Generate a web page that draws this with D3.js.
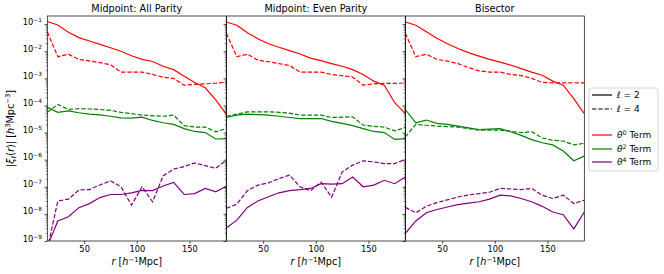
<!DOCTYPE html>
<html lang="en">
<head>
<meta charset="utf-8">
<title>Multipoles</title>
<script src="https://d3js.org/d3.v7.min.js"></script>
<style>
  body { margin: 0; background: #fff; }
  svg { font-family: "DejaVu Sans", sans-serif; }
</style>
</head>
<body>
<div class="chart"></div>
<script>
var r = [15, 25, 35, 45, 55, 65, 75, 85, 95, 105, 115, 125, 135, 145, 155, 165, 175, 185];
var titles = ["Midpoint: All Parity", "Midpoint: Even Parity", "Bisector"];
var xTicks = [50, 100, 150];
var yTicks = [1e-9, 1e-8, 1e-7, 1e-6, 1e-5, 1e-4, 1e-3, 1e-2, 1e-1];
var yTickExp = ["−9", "−8", "−7", "−6", "−5", "−4", "−3", "−2", "−1"];

// Midpoint: All Parity
var all_t0_l2 = [0.125, 0.093, 0.05, 0.032, 0.024, 0.018, 0.0135, 0.010, 0.0068, 0.005, 0.0042, 0.0028, 0.0021, 0.0012, 0.0007, 0.00045, 0.00016, 4.8e-5];
var all_t0_l4 = [0.052, 0.0063, 0.0078, 0.005, 0.0044, 0.0038, 0.0032, 0.0017, 0.0017, 0.0017, 0.0014, 0.0011, 0.001, 0.00056, 0.0006, 0.00063, 0.00066, 0.00072];
var all_t2_l2 = [8.5e-5, 5.6e-5, 6.3e-5, 5.4e-5, 4.8e-5, 4.5e-5, 4.0e-5, 3.5e-5, 3.4e-5, 3.7e-5, 2.8e-5, 2.3e-5, 2.0e-5, 1.4e-5, 1.1e-5, 1.0e-5, 5.8e-6, 6.0e-6];
var all_t2_l4 = [5.6e-5, 1.1e-4, 7.1e-5, 7.6e-5, 7.4e-5, 7.1e-5, 6.6e-5, 5.6e-5, 5.0e-5, 4.4e-5, 4.2e-5, 4.0e-5, 4.4e-5, 1.8e-5, 1.6e-5, 1.6e-5, 1.07e-5, 1.4e-5];
var all_t4_l2 = [6.3e-10, 5.5e-9, 7.8e-9, 1.7e-8, 2.4e-8, 4.0e-8, 5.2e-8, 5.2e-8, 6.0e-8, 7.4e-8, 7.2e-8, 1.07e-7, 1.45e-7, 5.2e-8, 5.6e-8, 8.7e-8, 6.5e-8, 1.05e-7];
var all_t4_l4 = [5e-10, 3.0e-8, 3.5e-8, 7.6e-8, 7.9e-8, 1.17e-7, 1.66e-7, 1.0e-7, 2.1e-8, 1.0e-7, 2.8e-8, 2.5e-7, 4.5e-7, 5.6e-7, 7.6e-7, 6.0e-7, 4.8e-7, 9.5e-7];

// Midpoint: Even Parity
var even_t0_l2 = [0.12, 0.091, 0.048, 0.029, 0.019, 0.014, 0.0105, 0.0079, 0.0056, 0.0045, 0.0035, 0.0028, 0.0021, 0.0014, 0.00079, 0.00056, 0.000126, 5.0e-5];
var even_t0_l4 = [0.046, 0.0063, 0.0078, 0.0047, 0.0041, 0.0035, 0.003, 0.0017, 0.0017, 0.0017, 0.0014, 0.00126, 0.00112, 0.00056, 0.00063, 0.00065, 0.00065, 0.00068];
var even_t2_l2 = [3.6e-5, 4.4e-5, 4.8e-5, 4.6e-5, 4.4e-5, 4.0e-5, 3.6e-5, 3.3e-5, 3.3e-5, 3.3e-5, 2.6e-5, 2.2e-5, 1.8e-5, 1.4e-5, 1.1e-5, 1.0e-5, 5.6e-6, 6.0e-6];
var even_t2_l4 = [4.0e-5, 4.8e-5, 5.8e-5, 5.8e-5, 5.8e-5, 5.6e-5, 5.2e-5, 4.4e-5, 4.4e-5, 4.4e-5, 3.6e-5, 3.7e-5, 3.8e-5, 1.9e-5, 1.7e-5, 1.6e-5, 1.15e-5, 1.55e-5];
var even_t4_l2 = [3.0e-9, 5.9e-9, 1.74e-8, 3.0e-8, 4.3e-8, 6.0e-8, 7.2e-8, 7.9e-8, 8.7e-8, 1.3e-7, 1.26e-7, 1.3e-7, 2.3e-7, 1.0e-7, 1.15e-7, 1.74e-7, 1.3e-7, 2.3e-7];
var even_t4_l4 = [1.6e-8, 2.3e-8, 7.1e-8, 1.15e-7, 1.4e-7, 2.0e-7, 2.7e-7, 1.0e-7, 7.1e-8, 1.5e-7, 4.1e-8, 3.5e-7, 6.3e-7, 9.1e-7, 8.3e-7, 7.2e-7, 7.2e-7, 1.02e-6];

// Bisector
var bis_t0_l2 = [0.12, 0.091, 0.052, 0.03, 0.019, 0.0126, 0.0089, 0.0066, 0.005, 0.004, 0.0031, 0.0023, 0.0017, 0.0013, 0.00079, 0.00056, 0.00018, 5.0e-5];
var bis_t0_l4 = [0.046, 0.0063, 0.0078, 0.005, 0.0043, 0.0035, 0.0025, 0.0019, 0.0017, 0.0017, 0.0014, 0.00126, 0.001, 0.00071, 0.00068, 0.00068, 0.00069, 0.00068];
var bis_t2_l2 = [7.1e-5, 2.3e-5, 2.9e-5, 2.2e-5, 2.0e-5, 1.74e-5, 1.5e-5, 1.3e-5, 1.35e-5, 1.4e-5, 1.07e-5, 7.9e-6, 5.5e-6, 4.2e-6, 3.5e-6, 2.1e-6, 9.1e-7, 1.35e-6];
var bis_t2_l4 = [6.9e-6, 2.0e-5, 1.86e-5, 1.74e-5, 1.66e-5, 1.6e-5, 1.4e-5, 1.23e-5, 1.23e-5, 1.23e-5, 1.12e-5, 1.0e-5, 1.07e-5, 6.3e-6, 5.2e-6, 4.9e-6, 3.5e-6, 4.0e-6];
var bis_t4_l2 = [1.9e-9, 5.5e-9, 1.1e-8, 1.45e-8, 1.8e-8, 2.2e-8, 2.5e-8, 2.8e-8, 3.5e-8, 4.9e-8, 4.6e-8, 3.7e-8, 2.8e-8, 1.9e-8, 1.17e-8, 9.3e-9, 2.8e-9, 1.17e-8];
var bis_t4_l4 = [1.74e-8, 1.1e-8, 1.9e-8, 2.6e-8, 3.3e-8, 4.2e-8, 5.0e-8, 5.6e-8, 6.3e-8, 8.7e-8, 8.3e-8, 7.9e-8, 8.7e-8, 4.9e-8, 3.7e-8, 4.9e-8, 2.4e-8, 3.2e-8];

var panelData = [
  [[all_t0_l2, all_t0_l4], [all_t2_l2, all_t2_l4], [all_t4_l2, all_t4_l4]],
  [[even_t0_l2, even_t0_l4], [even_t2_l2, even_t2_l4], [even_t4_l2, even_t4_l4]],
  [[bis_t0_l2, bis_t0_l4], [bis_t2_l2, bis_t2_l4], [bis_t4_l2, bis_t4_l4]]
];
var colors = ["#ff0000", "#008000", "#800080"];
var termNames = ["0", "2", "4"];
var dash = "4.4,1.9";

var W = 664, H = 274,
    m = {top: 16, left: 47.3},
    pw = 179, ph = 225,
    fsTick = 8.3, fsLab = 9.7, fsLeg = 9;

var svg = d3.select(".chart").append("svg")
  .attr("width", W)
  .attr("height", H);

var x = d3.scaleLinear().domain([15, 185]).range([0, pw]);
var y = d3.scaleLog().domain([1e-9, 0.2]).range([ph, 0]);

var minor = [];
yTicks.forEach(function(d) {
  for (var k = 2; k < 10; k++) {
    if (d * k < 0.199) minor.push(d * k);
  }
});

// writes mathtext-ish pieces: i = italic, s = superscript, b = subscript
function rich(t, parts, fs) {
  var shift = 0;
  parts.forEach(function(p) {
    var st = p[1] || "";
    var target = st.indexOf("s") >= 0 ? -0.36 * fs : (st.indexOf("b") >= 0 ? 0.22 * fs : 0);
    var ts = t.append("tspan").text(p[0]).attr("dy", target - shift);
    shift = target;
    if (st.indexOf("i") >= 0) ts.style("font-style", "italic");
    if (target !== 0) ts.style("font-size", (0.7 * fs) + "px");
  });
}

var line = d3.line()
  .x(function(d) { return x(d[0]); })
  .y(function(d) { return y(d[1]); });

titles.forEach(function(title, pi) {
  var g = svg.append("g")
    .attr("transform", "translate(" + (m.left + pi * pw) + "," + m.top + ")");

  g.append("clipPath").attr("id", "clip" + pi)
    .append("rect").attr("width", pw).attr("height", ph);

  var lines = g.append("g").attr("clip-path", "url(#clip" + pi + ")");
  panelData[pi].forEach(function(pair, ti) {
    pair.forEach(function(vals, li) {
      lines.append("path")
        .datum(r.map(function(rv, i) { return [rv, vals[i]]; }))
        .attr("d", line)
        .style("fill", "none")
        .style("stroke", colors[ti])
        .style("stroke-width", 1.2)
        .style("stroke-dasharray", li == 1 ? dash : null);
    });
  });

  // x axis
  var xa = g.append("g")
    .attr("transform", "translate(0," + ph + ")")
    .call(d3.axisBottom(x).tickValues(xTicks).tickSize(2.8).tickPadding(2.6).tickSizeOuter(0));
  xa.select(".domain").remove();
  xa.selectAll("text").style("font-size", fsTick + "px").style("font-family", "DejaVu Sans").attr("fill", "#000");
  xa.selectAll("line").style("stroke-width", 0.7);

  // y axis, minor then major
  var ym = g.append("g")
    .call(d3.axisLeft(y).tickValues(minor).tickSize(1.6).tickFormat("").tickSizeOuter(0));
  ym.select(".domain").remove();
  ym.selectAll("line").style("stroke-width", 0.5);

  var ya = g.append("g")
    .call(d3.axisLeft(y).tickValues(yTicks).tickSize(2.8).tickPadding(2.6).tickSizeOuter(0));
  ya.select(".domain").remove();
  ya.selectAll("line").style("stroke-width", 0.7);
  ya.selectAll("text").text(null);
  if (pi == 0) {
    ya.selectAll(".tick text")
      .style("font-size", fsTick + "px")
      .style("font-family", "DejaVu Sans")
      .attr("fill", "#000")
      .attr("dy", "0.36em")
      .each(function(d, i) {
        rich(d3.select(this), [["10"], [yTickExp[i], "s"]], fsTick);
      });
  }

  // spines
  g.append("rect")
    .attr("width", pw)
    .attr("height", ph)
    .style("fill", "none")
    .style("stroke", "#000")
    .style("stroke-width", 0.7);

  g.append("text")
    .attr("x", pw / 2)
    .attr("y", -3.6)
    .attr("text-anchor", "middle")
    .style("font-size", fsLab + "px")
    .text(title);

  var xl = g.append("text")
    .attr("x", pw / 2)
    .attr("y", ph + 24)
    .attr("text-anchor", "middle")
    .style("font-size", fsLab + "px");
  rich(xl, [["r", "i"], [" ["], ["h", "i"], ["−1", "s"], ["Mpc]"]], fsLab);
});

var yl = svg.append("text")
  .attr("transform", "translate(13.5," + (m.top + ph / 2) + ") rotate(-90)")
  .attr("text-anchor", "middle")
  .style("font-size", fsLab + "px");
rich(yl, [["|"], ["ξ", "i"], ["ℓ", "ib"], ["("], ["r", "i"], [")| ["], ["h", "i"], ["3", "s"], ["Mpc"], ["−3", "s"], ["]"]], fsLab);

// legend
var lg = svg.append("g").attr("transform", "translate(589,88)");
lg.append("rect")
  .attr("width", 69)
  .attr("height", 83)
  .attr("rx", 2)
  .style("fill", "#fff")
  .style("fill-opacity", 0.8)
  .style("stroke", "#cccccc")
  .style("stroke-width", 0.8);

var legRows = [
  {y: 7, color: "#000", dashed: false, parts: [["ℓ", "i"], [" = 2"]]},
  {y: 21, color: "#000", dashed: true, parts: [["ℓ", "i"], [" = 4"]]},
  {y: 47, color: colors[0], dashed: false, parts: [["θ", "i"], [termNames[0], "s"], [" Term"]]},
  {y: 61, color: colors[1], dashed: false, parts: [["θ", "i"], [termNames[1], "s"], [" Term"]]},
  {y: 74, color: colors[2], dashed: false, parts: [["θ", "i"], [termNames[2], "s"], [" Term"]]}
];
legRows.forEach(function(row) {
  lg.append("line")
    .attr("x1", 3).attr("x2", 23)
    .attr("y1", row.y).attr("y2", row.y)
    .style("stroke", row.color)
    .style("stroke-width", 1.2)
    .style("stroke-dasharray", row.dashed ? dash : null);
  var t = lg.append("text")
    .attr("x", 28)
    .attr("y", row.y + 3.2)
    .style("font-size", fsLeg + "px");
  rich(t, row.parts, fsLeg);
});
</script>
</body>
</html>
